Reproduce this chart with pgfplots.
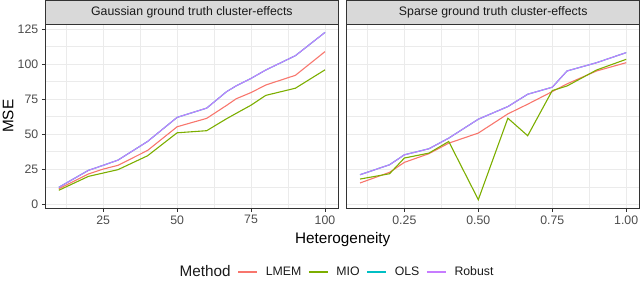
\documentclass[border=0pt]{standalone}
\usepackage{fontspec}
\setmainfont{Liberation Sans}
\usepackage{pgfplots}
\pgfplotsset{compat=1.18}
\definecolor{lmem}{HTML}{F8766D}
\definecolor{mio}{HTML}{7CAE00}
\definecolor{ols}{HTML}{00BFC4}
\definecolor{rob}{HTML}{C77CFF}
\definecolor{g10}{gray}{0.1}
\definecolor{g20}{gray}{0.2}
\definecolor{g30}{gray}{0.3}
\definecolor{g85}{gray}{0.85}
\definecolor{g92}{gray}{0.92}

\pgfplotstableread{
x     lmem  mio   ols   rob
10    11.1  10.0  12.1  12.1
20    21.6  19.9  24.2  24.2
25    25.1  22.3  27.8  27.8
30    27.8  24.7  31.5  31.5
40    38.4  34.6  44.8  44.8
50    55.3  51.0  62.0  62.0
60    61.3  52.5  68.6  68.6
66.7  70.5  61.0  80.3  80.3
70    75.3  64.9  84.5  84.5
75    79.7  70.7  89.8  89.8
80    85.1  77.7  95.8  95.8
90    92.0  82.8  106.0 106.0
100   108.9 95.9  122.6 122.6
}\gauss

\pgfplotstableread{
x     lmem  mio   ols   rob
0.1   15.2  18.0  21.1  21.1
0.2   22.8  21.8  28.2  28.2
0.25  29.9  33.0  35.3  35.3
0.333 36.1  36.5  39.6  39.6
0.4   43.6  44.8  47.2  47.2
0.5   50.8  3.3   60.7  60.7
0.6   64.5  61.4  69.7  69.7
0.667 71.4  48.9  78.5  78.5
0.75  80.4  81.1  83.5  83.5
0.8   85.9  84.4  95.1  95.1
0.9   95.1  95.8  101.0 101.0
1.0   101.0 103.4 108.2 108.2
}\sparse

\pgfplotsset{
  facet/.style={
    scale only axis, width=292.8pt, height=184.3pt,
    anchor=south west,
    ymin=-2.85, ymax=128.6,
    ytick={0,25,50,75,100,125},
    minor ytick={12.5,37.5,62.5,87.5,112.5},
    grid=both,
    major grid style={g92, line width=0.9pt},
    minor grid style={g92, line width=0.45pt},
    axis line style={g20, line width=0.8pt},
    tick style={g20, line width=0.8pt},
    tick align=outside,
    major tick length=3.7pt,
    minor tick length=0pt,
    xtick pos=bottom, ytick pos=left,
    tick label style={font=\fontsize{12.3}{14}\selectfont, text=g30},
    /pgf/number format/assume math mode=true,
    every axis plot/.append style={line width=1.1pt, no markers},
    legend image code/.code={\draw[#1] (0pt,0pt) -- (19pt,0pt);},
  }
}

\begin{document}
\begin{tikzpicture}[x=1pt,y=1pt]
\useasboundingbox (0,0) rectangle (640,288);

\begin{axis}[facet, at={(45.5pt,79.7pt)},
  xmin=5.5, xmax=104.5,
  xtick={25,50,75,100},
  minor xtick={12.5,37.5,62.5,87.5},
  legend style={at={(0.984,-0.3456)}, anchor=center, draw=none, fill=none,
    legend columns=5, font=\fontsize{12.3}{14}\selectfont, text=g10,
    /tikz/every odd column/.append style={column sep=6pt},
    /tikz/every even column/.append style={column sep=5pt}},
]
\addlegendimage{empty legend}
\addlegendentry{\fontsize{15.3}{17}\selectfont Method\hspace{3pt}}
\addplot[lmem] table[x=x,y=lmem]{\gauss};
\addlegendentry{LMEM}
\addplot[mio] table[x=x,y=mio]{\gauss};
\addlegendentry{MIO}
\addplot[ols] table[x=x,y=ols]{\gauss};
\addlegendentry{OLS}
\addplot[rob] table[x=x,y=rob]{\gauss};
\addlegendentry{Robust}
\end{axis}

\begin{axis}[facet, at={(346.7pt,79.7pt)},
  xmin=0.055, xmax=1.045,
  xtick={0.25,0.5,0.75,1.0},
  xticklabels={0.25,0.50,0.75,1.00},
  minor xtick={0.125,0.375,0.625,0.875},
  yticklabels={},
  ytick style={draw=none},
]
\addplot[lmem] table[x=x,y=lmem]{\sparse};
\addplot[mio] table[x=x,y=mio]{\sparse};
\addplot[ols] table[x=x,y=ols]{\sparse};
\addplot[rob] table[x=x,y=rob]{\sparse};
\end{axis}

\draw[g20, fill=g85, line width=0.8pt] (45.5,264) rectangle (338.3,287.6);
\draw[g20, fill=g85, line width=0.8pt] (346.7,264) rectangle (639.6,287.6);
\node[text=g10, font=\fontsize{12.3}{14}\selectfont] at (191.9,275.8) {Gaussian ground truth cluster-effects};
\node[text=g10, font=\fontsize{12.3}{14}\selectfont] at (493.2,275.8) {Sparse ground truth cluster-effects};

\node[rotate=90, text=black, font=\fontsize{15.3}{17}\selectfont] at (8,171.8) {MSE};
\node[text=black, font=\fontsize{15.3}{17}\selectfont] at (342.7,48.5) {Heterogeneity};
\end{tikzpicture}
\end{document}
